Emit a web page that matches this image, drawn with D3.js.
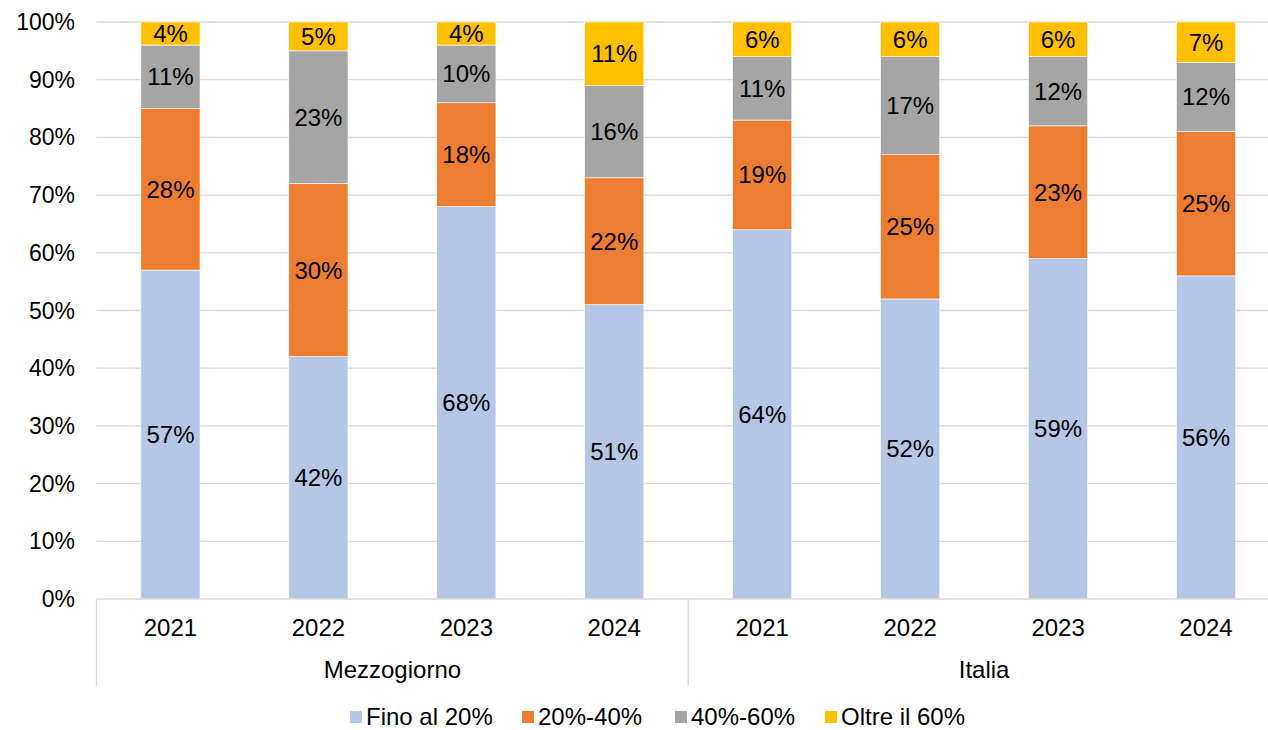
<!DOCTYPE html>
<html>
<head>
<meta charset="utf-8">
<script src="https://cdn.jsdelivr.net/npm/d3@7"></script>
<style>
  body { margin: 0; background: #fff; }
  text { font-family: "Liberation Sans", Arial, sans-serif; }
</style>
</head>
<body>
<div id="chart"></div>
<script>
// data
var groups = ["Mezzogiorno", "Italia"];
var years = ["2021", "2022", "2023", "2024"];
var seriesNames = ["Fino al 20%", "20%-40%", "40%-60%", "Oltre il 60%"];
var seriesColors = ["#B4C7E7", "#ED7D31", "#A5A5A5", "#FFC000"];
var fino20 = [57, 42, 68, 51, 64, 52, 59, 56];
var da20a40 = [28, 30, 18, 22, 19, 25, 23, 25];
var da40a60 = [11, 23, 10, 16, 11, 17, 12, 12];
var oltre60 = [4, 5, 4, 11, 6, 6, 6, 7];
var yTicks = [0, 10, 20, 30, 40, 50, 60, 70, 80, 90, 100];

// dimensions
var W = 1268, H = 730;
var margin = {top: 22, left: 96.5, bottom: 131};
var plotRight = 1280;
var plotBottom = H - margin.bottom;
var fs = 24;

var svg = d3.select("#chart").append("svg")
    .attr("width", W).attr("height", H);

// build rows
var keys = [];
var rows = [];
groups.forEach(function(g, gi) {
  years.forEach(function(y, yi) {
    var i = gi * years.length + yi;
    var k = g + "|" + y;
    keys.push(k);
    rows.push({key: k, group: g, year: y,
      s0: fino20[i], s1: da20a40[i], s2: da40a60[i], s3: oltre60[i]});
  });
});

var x = d3.scaleBand().domain(keys).range([margin.left, plotRight]).paddingInner(0.6).paddingOuter(0.3);
var y = d3.scaleLinear().domain([0, 100]).range([plotBottom, margin.top]);

// gridlines
svg.append("g").selectAll("line")
  .data(yTicks.filter(function(d) { return d > 0; }))
  .enter().append("line")
  .attr("x1", margin.left).attr("x2", plotRight)
  .attr("y1", function(d) { return y(d); }).attr("y2", function(d) { return y(d); })
  .attr("stroke", "#d9d9d9").attr("stroke-width", 1.3);

// y axis labels
svg.append("g").selectAll("text")
  .data(yTicks).enter().append("text")
  .attr("x", 75).attr("y", function(d) { return y(d); })
  .attr("dy", "0.35em").attr("text-anchor", "end")
  .attr("font-size", 23).attr("fill", "#000")
  .text(function(d) { return d + "%"; });

// stacked bars
var stack = d3.stack().keys(["s0", "s1", "s2", "s3"]);
var stacked = stack(rows);

var layers = svg.append("g").selectAll("g")
  .data(stacked).enter().append("g")
  .attr("fill", function(d, i) { return seriesColors[i]; });

layers.selectAll("rect")
  .data(function(d) { return d; })
  .enter().append("rect")
  .attr("x", function(d) { return x(d.data.key); })
  .attr("width", x.bandwidth())
  .attr("y", function(d) { return y(d[1]); })
  .attr("height", function(d) { return y(d[0]) - y(d[1]); })
  .attr("stroke", "#fff").attr("stroke-width", 0.6);

layers.selectAll("text")
  .data(function(d) { return d; })
  .enter().append("text")
  .attr("x", function(d) { return x(d.data.key) + x.bandwidth() / 2; })
  .attr("y", function(d) { return (y(d[0]) + y(d[1])) / 2; })
  .attr("dy", "0.35em").attr("text-anchor", "middle")
  .attr("font-size", fs).attr("fill", "#000")
  .text(function(d) { return Math.round(d[1] - d[0]) + "%"; });

// x axis
var axisColor = "#d9d9d9";
svg.append("line")
  .attr("x1", margin.left).attr("x2", plotRight)
  .attr("y1", plotBottom).attr("y2", plotBottom)
  .attr("stroke", axisColor).attr("stroke-width", 1.3);

var step = x.step();
var groupEdges = [margin.left, margin.left + step * years.length];
svg.append("g").selectAll("line")
  .data(groupEdges).enter().append("line")
  .attr("x1", function(d) { return d; }).attr("x2", function(d) { return d; })
  .attr("y1", plotBottom).attr("y2", 686)
  .attr("stroke", axisColor).attr("stroke-width", 1.3);

svg.append("g").selectAll("text")
  .data(rows).enter().append("text")
  .attr("x", function(d) { return x(d.key) + x.bandwidth() / 2; })
  .attr("y", 628).attr("dy", "0.35em").attr("text-anchor", "middle")
  .attr("font-size", fs).attr("fill", "#000")
  .text(function(d) { return d.year; });

svg.append("g").selectAll("text")
  .data(groups).enter().append("text")
  .attr("x", function(d, i) { return margin.left + step * years.length * (i + 0.5); })
  .attr("y", 670).attr("dy", "0.35em").attr("text-anchor", "middle")
  .attr("font-size", fs).attr("fill", "#000")
  .text(function(d) { return d; });

// legend
var legendX = [350, 522, 675, 825];
var legend = svg.append("g").selectAll("g")
  .data(seriesNames).enter().append("g")
  .attr("transform", function(d, i) { return "translate(" + legendX[i] + ",717)"; });
legend.append("rect")
  .attr("x", 0).attr("y", -6).attr("width", 12).attr("height", 12)
  .attr("fill", function(d, i) { return seriesColors[i]; });
legend.append("text")
  .attr("x", 16).attr("dy", "0.35em")
  .attr("font-size", fs).attr("fill", "#000")
  .text(function(d) { return d; });
</script>
</body>
</html>
